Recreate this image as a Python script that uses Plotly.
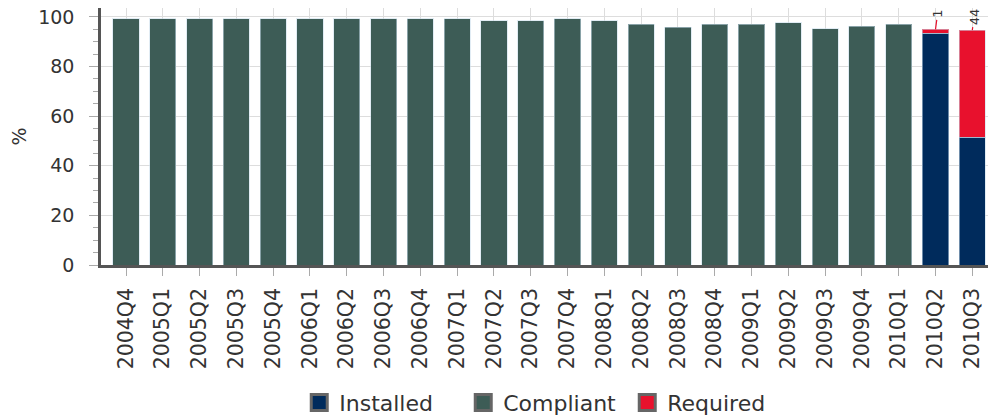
import plotly.graph_objects as go

quarters = ["2004Q4", "2005Q1", "2005Q2", "2005Q3", "2005Q4", "2006Q1", "2006Q2",
            "2006Q3", "2006Q4", "2007Q1", "2007Q2", "2007Q3", "2007Q4", "2008Q1",
            "2008Q2", "2008Q3", "2008Q4", "2009Q1", "2009Q2", "2009Q3", "2009Q4",
            "2010Q1", "2010Q2", "2010Q3"]
installed = [None] * 22 + [93.4, 51.6]
compliant = [99.2, 99.2, 99.2, 99.2, 99.2, 99.2, 99.2, 99.2, 99.2, 99.2, 98.5, 98.5,
             99.2, 98.5, 97.0, 95.9, 97.0, 97.0, 97.7, 95.3, 96.2, 97.0, None, None]
required = [None] * 22 + [1.6, 43.1]
required_counts = [None] * 22 + ["1", "44"]

FONT = "DejaVu Sans"
TXT = "#333333"

fig = go.Figure()
edge = dict(color="rgba(200,220,235,0.55)", width=1)
fig.add_bar(x=quarters, y=installed, name="Installed", marker=dict(color="#002B5C", line=edge),
            showlegend=False)
fig.add_bar(x=quarters, y=compliant, name="Compliant", marker=dict(color="#3D5C56", line=edge),
            showlegend=False)
fig.add_bar(x=quarters, y=required, name="Required", marker=dict(color="#E8112D", line=edge),
            showlegend=False)

# legend proxies
for name, col in [("Installed", "#002B5C"), ("Compliant", "#3D5C56"), ("Required", "#E8112D")]:
    fig.add_scatter(x=[None], y=[None], mode="markers", name=name,
                    marker=dict(symbol="square", size=16, color=col,
                                line=dict(color="#666666", width=3)))

# count labels above stacked bars
for q, ins, req, lab in zip(quarters, installed, required, required_counts):
    if lab is None:
        continue
    fig.add_annotation(x=q, y=ins + req, text=lab, textangle=-90, showarrow=True,
                       arrowhead=0, arrowcolor="#E8112D", arrowwidth=1.2, ax=2,
                       ay=-15 if len(lab) == 1 else -13,
                       font=dict(family=FONT, size=13, color=TXT))

# The page body has an 8px default margin, so the figure is sized 8px smaller.
fig.update_layout(
    barmode="stack",
    bargap=0.29,
    width=988, height=409,
    margin=dict(l=93, r=2, t=0, b=152, autoexpand=False),
    plot_bgcolor="white", paper_bgcolor="white",
    font=dict(family=FONT, size=19, color=TXT),
    legend=dict(orientation="h", x=0.222, xanchor="left", y=-0.536, yanchor="middle",
                traceorder="normal", entrywidth=119, entrywidthmode="pixels",
                font=dict(family=FONT, size=22, color=TXT), itemsizing="trace",
                itemwidth=30, tracegroupgap=0),
    xaxis=dict(range=[-0.68, 23.59], showgrid=True, gridcolor="#dddddd", gridwidth=1,
               showline=True, linecolor="#555555", linewidth=2.5, automargin=False,
               ticks="outside", ticklen=8, tickcolor="#aaaaaa", tickangle=-90,
               tickfont=dict(family=FONT, size=20.5, color=TXT), ticklabelstandoff=4),
    yaxis=dict(range=[0, 103.6], tickvals=[0, 20, 40, 60, 80, 100], showgrid=True,
               gridcolor="#dddddd", gridwidth=1, zeroline=False, automargin=False,
               showline=True, linecolor="#555555", linewidth=2.5,
               ticks="outside", ticklen=9, tickcolor="#aaaaaa", ticklabeloverflow="allow",
               minor=dict(dtick=5, ticks="outside", ticklen=5, tickcolor="#aaaaaa",
                          showgrid=False),
               tickfont=dict(family=FONT, size=19, color=TXT), ticklabelstandoff=11,
               title=dict(text="%", font=dict(family=FONT, size=19, color=TXT), standoff=30)),
)

fig.write_html("out.html")
